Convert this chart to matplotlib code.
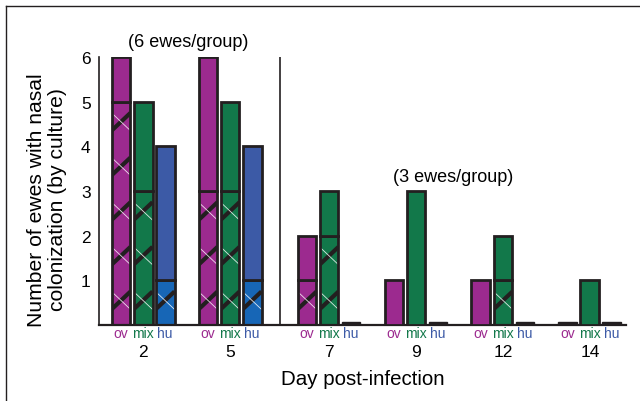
import numpy as np
import matplotlib
matplotlib.use('Agg')
import matplotlib.pyplot as plt
from matplotlib.lines import Line2D

plt.rcParams['font.family'] = ['Liberation Sans', 'DejaVu Sans']

# data
days = ['2', '5', '7', '9', '12', '14']
groups = ['ov', 'mix', 'hu']
# total ewes colonized per group
total_ov = [6, 6, 2, 1, 1, 0]
total_mix = [5, 5, 3, 3, 2, 1]
total_hu = [4, 4, 0, 0, 0, 0]
# hatched (lower) part of each bar
hatch_ov = [5, 3, 1, 0, 0, 0]
hatch_mix = [3, 3, 2, 0, 1, 0]
hatch_hu = [1, 1, 0, 0, 0, 0]

totals = [total_ov, total_mix, total_hu]
hatched = [hatch_ov, hatch_mix, hatch_hu]
fill_top = ['#9c2a8f', '#12784a', '#3c5aa6']
fill_low = ['#9c2a8f', '#12784a', '#1766b6']
label_col = ['#9c2a8f', '#12784a', '#3c5aa6']
edge = '#231f20'

fig = plt.figure(figsize=(6.4, 4.02), dpi=100)
ax = fig.add_axes([0.1547, 0.189, 0.8234, 0.6667])

# group centres, extra gap after day 5
pos = np.array([i + (0.138 if i >= 2 else 0) for i in range(len(days))])
w = 0.218
step = 0.253

for g in range(3):
    xs = pos + (g - 1) * step
    for i, x in enumerate(xs):
        t = totals[g][i]
        h = hatched[g][i]
        ax.text(x, -0.03, groups[g], transform=ax.get_xaxis_transform(),
                ha='center', va='center', fontsize=10, color=label_col[g])
        if t == 0:
            # empty group shown as a flat bar on the baseline
            ax.bar(x, 0.06, w, bottom=0, color=edge, edgecolor=edge, linewidth=1.0, zorder=4)
            continue
        if h > 0:
            r = ax.bar(x, h, w, color=fill_low[g], edgecolor='none', zorder=2)[0]
            x0, x1 = x - w / 2, x + w / 2
            for k in np.arange(-1, h + 1):
                l1, = ax.plot([x0, x1], [k + 0.35, k + 0.75], color=edge, lw=3.0,
                              solid_capstyle='butt', zorder=3)
                l2, = ax.plot([x0, x1], [k + 0.75, k + 0.35], color='white', lw=0.6,
                              alpha=0.85, zorder=3)
                l1.set_clip_path(r)
                l2.set_clip_path(r)
            ax.bar(x, h, w, color='none', edgecolor=edge, linewidth=2.0, zorder=4)
        if t > h:
            ax.bar(x, t - h, w, bottom=h, color=fill_top[g], edgecolor=edge,
                   linewidth=2.0, zorder=4)

# separator between 6-ewe and 3-ewe groups
ax.plot([(pos[1] + pos[2]) / 2] * 2, [0, 6], color=edge, lw=1.2, zorder=1)

ax.set_xlim(pos[0] - 0.506, pos[-1] + 0.414)
ax.set_ylim(0, 6)
ax.set_xticks(pos)
ax.set_xticklabels(days, fontsize=12.5)
ax.set_yticks([1, 2, 3, 4, 5, 6])
ax.set_yticklabels(['1', '2', '3', '4', '5', '6'], fontsize=12.5)
ax.tick_params(axis='x', length=0, pad=14)
ax.tick_params(axis='y', length=0, pad=6)
for s in ['top', 'right']:
    ax.spines[s].set_visible(False)
ax.spines['left'].set_color(edge)
ax.spines['bottom'].set_color(edge)
ax.spines['left'].set_linewidth(1.2)
ax.spines['bottom'].set_linewidth(1.6)

ax.set_xlabel('Day post-infection', fontsize=14.8, labelpad=7)
ax.set_ylabel('Number of ewes with nasal\ncolonization (by culture)', fontsize=15.2,
              labelpad=10, linespacing=1.15)
ax.yaxis.label.set_y(0.47)

ax.text(0.52, 6.34, '(6 ewes/group)', ha='center',
        va='center', fontsize=13, clip_on=False)
ax.text(pos[3] + 0.43, 3.32, '(3 ewes/group)', ha='center', va='center', fontsize=13)

# panel frame (top and left edges)
fig.add_artist(Line2D([0.0094, 1.0], [0.9826, 0.9826], color=edge, lw=1.0))
fig.add_artist(Line2D([0.0094, 0.0094], [0.0, 0.9826], color=edge, lw=1.0))

fig.savefig('out.png', dpi=100)
